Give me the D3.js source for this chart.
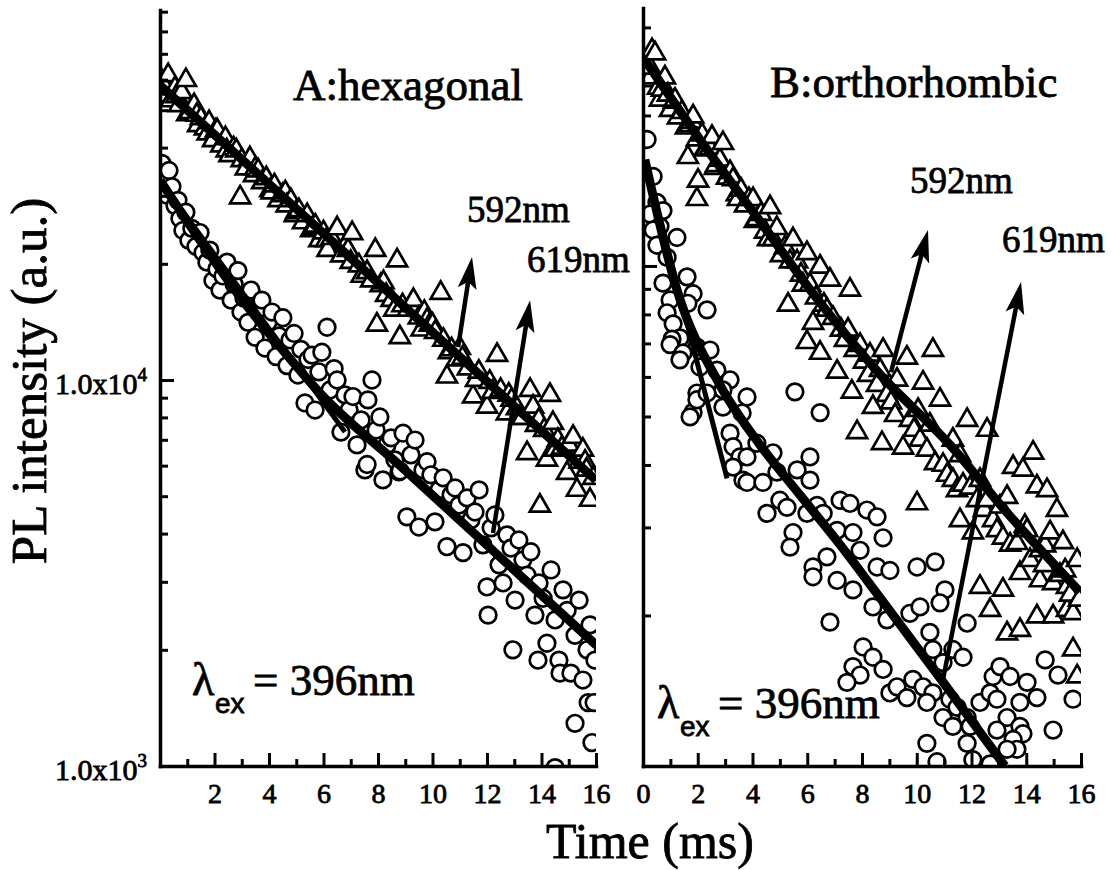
<!DOCTYPE html>
<html>
<head>
<meta charset="utf-8">
<title>PL decay curves</title>
<script src="https://cdn.jsdelivr.net/npm/d3@7/dist/d3.min.js"></script>
<style>
  html, body { margin: 0; padding: 0; background: #fff; }
  svg { display: block; }
  text { font-family: "Liberation Serif", "Times New Roman", Times, serif; fill: #000; stroke: #000; stroke-width: 0.8px; }
</style>
</head>
<body>
<svg id="chart" width="1111" height="870"></svg>
<script>
// ---------- axes ----------
const timeDomain = [0, 16];
const xMajorTicks = [0, 2, 4, 6, 8, 10, 12, 14, 16];
const xMinorTicks = [1, 3, 5, 7, 9, 11, 13, 15];
const xLabelsHex = [2, 4, 6, 8, 10, 12, 14, 16];
const xLabelsOrtho = [0, 2, 4, 6, 8, 10, 12, 14, 16];
const yMajorTicks = [1000, 10000];
const yMinorHex = [2000, 3000, 4000, 5000, 6000, 7000, 8000, 9000, 20000, 30000, 40000, 50000, 60000, 70000, 80000, 90000];
const yMinorOrtho = [2000, 3000, 4000, 5000, 6000, 7000, 8000, 9000, 20000, 30000];
const yDomainHex = [1000, 90900];
const yDomainOrtho = [1000, 32800];

// ---------- A: hexagonal, [time (ms), PL intensity] ----------
const hexTriangles592 = [[0.05,59800],[0.15,54600],[0.2,57000],[0.3,61600],[0.4,53000],[0.55,57000],[0.6,54300],[0.7,51500],[0.8,55600],[0.95,59800],[1.0,48800],[1.1,49400],[1.25,51500],[1.35,48600],[1.4,45700],[1.5,47600],[1.65,44800],[1.75,43500],[1.8,46500],[1.95,41800],[2.05,44300],[2.1,44300],[2.25,40500],[2.4,42300],[2.45,39300],[2.55,38200],[2.7,39800],[2.8,39300],[2.94,29700],[3.0,37100],[3.15,35300],[3.3,37500],[3.45,33900],[3.5,35300],[3.6,34900],[3.75,32500],[3.9,33300],[4.05,31000],[4.1,30600],[4.2,31900],[4.35,29200],[4.5,30100],[4.6,30600],[4.65,28300],[4.8,29200],[4.95,26700],[5.0,27200],[5.1,27500],[5.25,25600],[5.4,26700],[5.55,24400],[5.6,24700],[5.7,25100],[5.85,23000],[6.0,24100],[6.1,23000],[6.15,21700],[6.3,23300],[6.5,24700],[6.65,21000],[6.8,22300],[6.9,21700],[7.0,20200],[7.05,24000],[7.3,19800],[7.4,18600],[7.6,19000],[7.75,18100],[7.9,21700],[7.96,13900],[8.1,17600],[8.2,17900],[8.3,16600],[8.5,16100],[8.6,15200],[8.7,20400],[8.8,12900],[8.9,15600],[9.1,15200],[9.2,15600],[9.3,16100],[9.5,14500],[9.6,13500],[9.7,15000],[9.8,14300],[9.9,13900],[10.0,13900],[10.1,13300],[10.3,16800],[10.4,12700],[10.53,10200],[10.6,11800],[10.7,12000],[10.9,11300],[11.0,12100],[11.1,11400],[11.3,10700],[11.49,9060],[11.6,10000],[11.7,10500],[12.0,8520],[12.1,9880],[12.2,9310],[12.37,11600],[12.5,9420],[12.73,8190],[12.8,9150],[12.9,8880],[13.1,8440],[13.2,7970],[13.3,7970],[13.47,6460],[13.58,9420],[13.69,8520],[13.8,7640],[13.9,7880],[13.94,4720],[14.1,7420],[14.2,6210],[14.31,9140],[14.42,7730],[14.5,6590],[14.6,6990],[14.75,6670],[14.94,5740],[15.0,6790],[15.16,7120],[15.3,5190],[15.4,6140],[15.52,6590],[15.6,6140],[15.65,5850],[15.78,4890],[15.9,5570]];

const hexCircles619 = [[0.07,36400],[0.15,33300],[0.26,30100],[0.33,34900],[0.44,31700],[0.55,28300],[0.66,29200],[0.73,26200],[0.84,24400],[0.95,27200],[1.06,23000],[1.17,24700],[1.32,22200],[1.47,24100],[1.58,21400],[1.72,20200],[1.83,21700],[1.94,18100],[2.09,19400],[2.2,17100],[2.31,18600],[2.46,20200],[2.61,16100],[2.72,17700],[2.86,19200],[2.97,15000],[3.08,16300],[3.23,14100],[3.34,17100],[3.49,12900],[3.6,15200],[3.74,16100],[3.85,12100],[3.96,14100],[4.11,15000],[4.26,11500],[4.37,13000],[4.51,14500],[4.66,10900],[4.77,12700],[4.92,13200],[5.06,10300],[5.17,12000],[5.32,8720],[5.43,11300],[5.58,11600],[5.69,8360],[5.83,10500],[5.94,11800],[6.13,13700],[6.24,9420],[6.39,10700],[6.5,10000],[6.64,7330],[6.79,9150],[6.94,8360],[7.08,9060],[7.23,6790],[7.38,7880],[7.52,5850],[7.6,6040],[7.63,8880],[7.78,10000],[7.93,7420],[8.07,8020],[8.18,5510],[8.33,6790],[8.48,7080],[8.62,6210],[8.77,5780],[8.81,5810],[8.92,7280],[9.06,4420],[9.21,6400],[9.36,6990],[9.5,4160],[9.65,5850],[9.8,6140],[9.94,5680],[10.09,4290],[10.24,5190],[10.39,5580],[10.53,3700],[10.68,5040],[10.83,5250],[10.97,4740],[11.12,3570],[11.27,4950],[11.41,4340],[11.56,4550],[11.71,5190],[11.85,3740],[12.0,2910],[12.04,2460],[12.15,4140],[12.29,4470],[12.44,3320],[12.59,2980],[12.73,3970],[12.88,3670],[12.95,2000],[13.03,2690],[13.17,3850],[13.32,3420],[13.47,3120],[13.61,3590],[13.76,2460],[13.87,1880],[13.91,2980],[14.06,2720],[14.2,2080],[14.35,3220],[14.5,2390],[14.5,990],[14.64,1880],[14.68,1740],[14.79,2860],[14.94,2530],[15.08,1740],[15.23,2180],[15.23,1290],[15.38,2690],[15.52,1670],[15.67,2000],[15.71,1460],[15.78,2320],[15.85,1150],[15.93,1460],[15.96,1880]];

const hexFit592 = [[0,58000],[16,5500]];
const hexFit619 = [[0,32900],[1.47,23000],[2.94,16400],[4.4,12200],[5.87,9250],[8.81,6000],[14.2,2690],[16,2060]];
const hexFit619Fast = [[0,32900],[6.79,7330]];

// ---------- B: orthorhombic, [time (ms), PL intensity] ----------
const orthoTriangles592 = [[0.07,23500],[0.15,25300],[0.26,23800],[0.26,24900],[0.33,27000],[0.44,26600],[0.55,22700],[0.62,21500],[0.69,22500],[0.8,23800],[0.91,22000],[0.99,20500],[1.13,21300],[1.17,21500],[1.28,19800],[1.42,20300],[1.57,18900],[1.64,16500],[1.72,19100],[1.79,19400],[1.83,19900],[1.97,17900],[2.01,14800],[1.97,13600],[2.16,18300],[2.26,17100],[2.3,17100],[2.45,17200],[2.52,18100],[2.63,15700],[2.67,15900],[2.81,16300],[2.92,17600],[3.07,15000],[3.18,15400],[3.29,14900],[3.43,13900],[3.47,13600],[3.58,14200],[3.73,13200],[3.87,13600],[4.02,13600],[4.09,12300],[4.16,12400],[4.31,12700],[4.46,11700],[4.57,11300],[4.64,13100],[4.75,11300],[4.89,11900],[5.04,10500],[5.19,10900],[5.3,8360],[5.37,10200],[5.48,11300],[5.63,10200],[5.77,9600],[5.84,9170],[5.99,10600],[6.1,9170],[6.21,7690],[5.99,7040],[6.32,8640],[6.47,9960],[6.47,6700],[6.61,8360],[6.72,8170],[6.83,9380],[6.94,7870],[7.09,6140],[7.23,7450],[7.38,7110],[7.49,7450],[7.56,8960],[7.63,5600],[7.74,6790],[7.82,4650],[7.93,6950],[8.07,6430],[8.22,6050],[8.29,6640],[8.4,5220],[8.55,5780],[8.66,6190],[8.77,6790],[8.73,4420],[8.91,5520],[9.06,5330],[9.21,5030],[9.28,5920],[9.5,4330],[9.64,6550],[9.75,4920],[9.9,4700],[10.01,3350],[10.05,5150],[10.12,4490],[10.23,5840],[10.37,4290],[10.48,4810],[10.59,6790],[10.67,4030],[10.85,5400],[10.96,4000],[11.11,3820],[11.32,4490],[11.32,3730],[11.47,3560],[11.58,3100],[11.58,4180],[11.69,3650],[11.84,4920],[11.95,3600],[12.05,2930],[12.2,3400],[12.31,2280],[12.31,3730],[12.46,3250],[12.57,4700],[12.57,3400],[12.68,2050],[12.79,3100],[12.93,2960],[13.04,3300],[13.15,2860],[13.15,2250],[13.3,1840],[13.3,3450],[13.41,2770],[13.52,3960],[13.66,2790],[13.77,2430],[13.77,1870],[13.88,3910],[13.95,3020],[14.03,2960],[14.14,2580],[14.25,4230],[14.39,3620],[14.39,1990],[14.5,2700],[14.5,2350],[14.65,2520],[14.69,2760],[14.76,3560],[14.87,2930],[14.98,2320],[14.98,1990],[15.12,3250],[15.23,2410],[15.34,2800],[15.42,2460],[15.49,2280],[15.49,2050],[15.6,2200],[15.71,2020],[15.71,1710],[15.86,2580],[15.86,1510],[15.93,2150]];

const orthoCircles619 = [[0.15,17900],[0.37,15100],[0.51,13400],[0.73,12900],[0.26,12700],[0.62,12000],[0.37,11800],[1.24,11400],[0.51,11000],[0.88,10400],[1.61,9510],[0.73,9240],[1.83,8800],[0.99,8550],[1.64,8420],[2.34,8170],[0.88,8060],[1.1,7660],[1.35,7180],[1.06,7140],[0.99,6960],[1.97,6880],[1.46,6700],[2.45,6790],[1.35,6490],[2.08,6280],[2.7,6190],[3.18,5920],[1.97,5570],[2.92,5650],[1.83,5100],[1.97,5400],[2.34,5570],[2.92,5220],[1.72,4990],[3.18,4630],[3.29,4350],[3.54,4150],[3.65,3730],[3.29,3960],[3.8,5470],[3.62,5080],[5.55,5600],[6.47,5090],[3.8,4150],[4.16,4420],[4.75,4230],[3.8,3690],[4.38,3690],[4.89,3870],[5.63,3910],[6.1,4150],[6.1,3730],[4.53,3200],[5.0,3400],[5.26,3290],[5.48,2930],[5.37,2740],[5.99,3200],[6.36,3320],[6.58,3200],[7.2,3400],[7.56,3350],[7.09,2960],[7.67,2930],[8.18,3250],[8.55,3150],[8.77,2860],[7.93,2700],[8.55,2500],[6.72,2620],[6.21,2500],[6.21,2390],[7.09,2350],[7.67,2250],[9.02,2460],[10.01,2500],[10.67,2560],[11.03,2250],[6.83,1940],[8.04,1730],[7.67,1580],[8.4,1650],[7.93,1520],[8.77,1560],[7.45,1470],[9.02,1400],[9.28,1440],[8.4,2080],[8.91,1960],[9.75,2020],[10.12,2080],[10.48,1850],[10.85,2120],[10.59,1710],[10.96,1610],[11.32,1710],[11.69,1650],[11.84,1930],[9.86,1490],[10.23,1440],[10.59,1400],[11.21,1360],[11.47,1310],[11.84,1250],[9.64,1370],[10.37,1340],[10.96,1250],[11.32,1200],[11.95,1200],[12.31,1340],[12.68,1400],[12.93,1360],[12.79,1510],[13.04,1580],[13.41,1510],[14.03,1470],[14.39,1370],[13.77,1340],[13.3,1250],[13.77,1200],[13.88,1160],[12.93,1180],[13.52,1130],[13.66,1080],[13.3,1080],[12.05,1030],[12.68,1010],[11.84,1110],[14.98,1180],[15.71,1360],[10.37,1110],[10.74,1020],[14.69,1630],[15.16,1520]];

const orthoFit592 = [[0.07,25800],[2.08,17900],[4.27,12300],[6.21,8810],[8.66,6070],[11.21,4390],[13.41,3160],[15.96,2230]];
const orthoFit619 = [[0.07,16300],[1.24,8960],[2.81,5780],[4.27,4390],[5.74,3480],[7.2,2770],[8.66,2170],[10.85,1500],[13.22,1000]];
const orthoFit619Fast = [[0.07,16300],[3.07,3760]];

// ---------- arrows: [time, intensity] of tail and head ----------
const arrowsHex = [
  { label: "592nm", tail: [10.94, 12170], head: [11.45, 20830] },
  { label: "619nm", tail: [12.22, 4015], head: [13.58, 16100] }
];
const arrowsOrtho = [
  { label: "592nm", tail: [9.06, 6130], head: [10.41, 11800] },
  { label: "619nm", tail: [10.96, 1490], head: [13.81, 9290] }
];

const panelTitles = ["A:hexagonal", "B:orthorhombic"];
const excitationText = "= 396nm";

// ---------- layout ----------
const panels = [
  {
    id: "hex", left: 160, right: 596, top: 10, bottom: 766,
    yDomain: yDomainHex, yMinor: yMinorHex, xLabels: xLabelsHex, yLabels: true,
    triangles: hexTriangles592, circles: hexCircles619,
    fits: [{ pts: hexFit592, w: 9 }, { pts: hexFit619, w: 9 }, { pts: hexFit619Fast, w: 5 }],
    arrows: arrowsHex, arrowLabelPos: [[467, 222], [527, 272]],
    title: panelTitles[0], titlePos: [293, 100],
    excPos: [192, 695]
  },
  {
    id: "ortho", left: 643, right: 1081, top: 8, bottom: 766,
    yDomain: yDomainOrtho, yMinor: yMinorOrtho, xLabels: xLabelsOrtho, yLabels: false,
    triangles: orthoTriangles592, circles: orthoCircles619,
    fits: [{ pts: orthoFit592, w: 9 }, { pts: orthoFit619, w: 9 }, { pts: orthoFit619Fast, w: 5 }],
    arrows: arrowsOrtho, arrowLabelPos: [[910, 193], [1002, 252]],
    title: panelTitles[1], titlePos: [770, 97],
    excPos: [657, 718]
  }
];

const svg = d3.select("#chart");
const triangleSymbol = d3.symbol(d3.symbolTriangle, 175)();

function drawArrow(g, x0, y0, x1, y1) {
  const dx = x1 - x0, dy = y1 - y0, len = Math.hypot(dx, dy);
  const ux = dx / len, uy = dy / len, px = -uy, py = ux;
  const headLen = 32, headW = 9.5;
  g.append("line")
    .attr("x1", x0).attr("y1", y0)
    .attr("x2", x1 - ux * headLen * 0.6).attr("y2", y1 - uy * headLen * 0.6)
    .attr("stroke", "#000").attr("stroke-width", 4.5);
  const bx = x1 - ux * headLen, by = y1 - uy * headLen;
  const nx = x1 - ux * headLen * 0.78, ny = y1 - uy * headLen * 0.78;
  g.append("path")
    .attr("d", `M${x1},${y1}L${bx + px * headW},${by + py * headW}L${nx},${ny}L${bx - px * headW},${by - py * headW}Z`)
    .attr("fill", "#000");
}

panels.forEach(p => {
  const x = d3.scaleLinear().domain(timeDomain).range([p.left, p.right]);
  const y = d3.scaleLog().domain(p.yDomain).range([p.bottom, p.top]);
  const g = svg.append("g").attr("class", "panel-" + p.id);

  const clipId = "clip-" + p.id;
  svg.append("clipPath").attr("id", clipId).append("rect")
    .attr("x", p.left).attr("y", p.top - 30)
    .attr("width", p.right - p.left).attr("height", p.bottom - p.top + 30);

  const plot = g.append("g").attr("clip-path", `url(#${clipId})`);

  // 592 nm decay: open triangles
  plot.append("g").selectAll("path").data(p.triangles).join("path")
    .attr("d", triangleSymbol)
    .attr("transform", d => `translate(${x(d[0])},${y(d[1])})`)
    .attr("fill", "#fff").attr("stroke", "#000").attr("stroke-width", 2.7);

  // 619 nm decay: open circles
  plot.append("g").selectAll("circle").data(p.circles).join("circle")
    .attr("cx", d => x(d[0])).attr("cy", d => y(d[1])).attr("r", 8.3)
    .attr("fill", "#fff").attr("stroke", "#000").attr("stroke-width", 2.7);

  // exponential fits
  const line = d3.line().x(d => x(d[0])).y(d => y(d[1])).curve(d3.curveMonotoneX);
  p.fits.forEach(f => {
    plot.append("path").attr("d", line(f.pts))
      .attr("fill", "none").attr("stroke", "#000").attr("stroke-width", f.w)
      .attr("stroke-linecap", "butt");
  });

  // axes
  const axisStyle = sel => {
    sel.selectAll(".tick line").attr("stroke", "#000").attr("stroke-width", 3);
    sel.selectAll(".domain").attr("stroke", "#000").attr("stroke-width", 3.5).attr("stroke-linecap", "square");
  };
  const gxMinor = g.append("g").attr("transform", `translate(0,${p.bottom})`)
    .call(d3.axisBottom(x).tickValues(xMinorTicks).tickSize(-7).tickSizeOuter(0).tickFormat(""));
  gxMinor.select(".domain").remove();
  axisStyle(gxMinor);
  const gx = g.append("g").attr("transform", `translate(0,${p.bottom})`)
    .call(d3.axisBottom(x).tickValues(xMajorTicks).tickSize(-13).tickSizeOuter(0).tickPadding(17)
      .tickFormat(d => p.xLabels.includes(d) ? d : ""));
  axisStyle(gx);
  gx.selectAll("text").attr("font-size", 28).attr("fill", "#000")
    .style("font-family", '"Liberation Serif", "Times New Roman", serif');

  const gyMinor = g.append("g").attr("transform", `translate(${p.left},0)`)
    .call(d3.axisLeft(y).tickValues(p.yMinor).tickSize(-8).tickSizeOuter(0).tickFormat(""));
  gyMinor.select(".domain").remove();
  axisStyle(gyMinor);
  const gy = g.append("g").attr("transform", `translate(${p.left},0)`)
    .call(d3.axisLeft(y).tickValues(yMajorTicks).tickSize(-14).tickSizeOuter(0).tickFormat(""));
  axisStyle(gy);

  if (p.yLabels) {
    yMajorTicks.forEach(v => {
      const t = g.append("text")
        .attr("x", p.left - 13).attr("y", y(v) + 14)
        .attr("text-anchor", "end").attr("font-size", 30);
      t.append("tspan").text("1.0x10");
      t.append("tspan").attr("dy", -13).attr("font-size", 19).text(Math.round(Math.log10(v)));
    });
  }

  // fit arrows and wavelength labels
  p.arrows.forEach((a, i) => {
    drawArrow(g, x(a.tail[0]), y(a.tail[1]), x(a.head[0]), y(a.head[1]));
    g.append("text").attr("x", p.arrowLabelPos[i][0]).attr("y", p.arrowLabelPos[i][1])
      .attr("font-size", 37).text(a.label);
  });

  // panel title
  g.append("text").attr("x", p.titlePos[0]).attr("y", p.titlePos[1])
    .attr("font-size", 45).text(p.title);

  // excitation wavelength
  const [ex, ey] = p.excPos;
  g.append("text").attr("x", ex).attr("y", ey).attr("font-size", 46).text("λ");
  g.append("text").attr("x", ex + 23).attr("y", ey + 18).attr("font-size", 28)
    .style("font-family", '"Liberation Sans", Arial, sans-serif').text("ex");
  g.append("text").attr("x", ex + 61).attr("y", ey).attr("font-size", 45).text(excitationText);
});

// shared axis titles
svg.append("text")
  .attr("transform", "translate(46,381) rotate(-90)")
  .attr("text-anchor", "middle").attr("font-size", 51)
  .text("PL intensity (a.u.)");
svg.append("text")
  .attr("x", 650).attr("y", 858).attr("text-anchor", "middle").attr("font-size", 50)
  .text("Time (ms)");
</script>
</body>
</html>
